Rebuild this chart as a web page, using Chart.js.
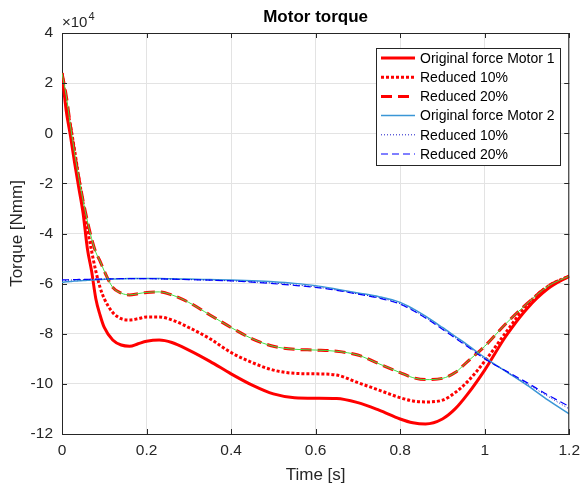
<!DOCTYPE html>
<html>
<head>
<meta charset="utf-8">
<script src="https://cdn.jsdelivr.net/npm/chart.js@4"></script>
<style>
  html, body { margin: 0; padding: 0; background: #fff; }
  #wrap { width: 587px; height: 486px; position: relative; }
</style>
</head>
<body>
<div id="wrap"><canvas id="myChart"></canvas></div>
<script>
// time in seconds, torque values in units of 1e4 Nmm (axis shows x10^4)
const time = [0, 0.01, 0.02, 0.03, 0.04, 0.05, 0.06, 0.07, 0.08, 0.09, 0.10, 0.12, 0.14, 0.16, 0.18, 0.20,
  0.23, 0.26, 0.30, 0.35, 0.40, 0.45, 0.50, 0.55, 0.60, 0.65, 0.70, 0.75, 0.80, 0.83, 0.86, 0.90,
  0.93, 0.96, 1.00, 1.05, 1.10, 1.15, 1.20];

const motor1Original = [2.4, 0.9, -0.1, -1.2, -2.2, -3.2, -4.6, -5.5, -6.6, -7.25, -7.75, -8.25, -8.45, -8.5, -8.4, -8.3,
  -8.25, -8.35, -8.65, -9.1, -9.6, -10.05, -10.4, -10.55, -10.57, -10.58, -10.75, -11.05, -11.4, -11.55, -11.6, -11.4,
  -11.0, -10.4, -9.45, -8.1, -7.0, -6.2, -5.7];
const motor1Reduced10 = [2.4, 1.2, 0.3, -0.7, -1.8, -2.8, -3.8, -4.7, -5.5, -6.15, -6.6, -7.15, -7.4, -7.45, -7.4, -7.33,
  -7.33, -7.45, -7.75, -8.2, -8.75, -9.15, -9.45, -9.58, -9.6, -9.65, -9.95, -10.25, -10.55, -10.68, -10.72, -10.65,
  -10.35, -9.9, -9.1, -7.95, -6.85, -6.1, -5.7];
const motor1Reduced20 = [2.4, 1.5, 0.3, -0.8, -1.8, -2.7, -3.5, -4.2, -4.75, -5.1, -5.5, -6.15, -6.38, -6.45, -6.4, -6.35,
  -6.33, -6.45, -6.75, -7.25, -7.75, -8.2, -8.5, -8.62, -8.65, -8.7, -8.85, -9.2, -9.55, -9.75, -9.83, -9.78,
  -9.55, -9.1, -8.5, -7.6, -6.8, -6.1, -5.7];

const motor2Original = [-5.95, -5.93, -5.92, -5.9, -5.89, -5.88, -5.87, -5.86, -5.85, -5.84, -5.83, -5.82, -5.81, -5.8, -5.8, -5.8,
  -5.8, -5.81, -5.82, -5.84, -5.86, -5.89, -5.93, -5.99, -6.08, -6.22, -6.37, -6.52, -6.75, -7.0, -7.3, -7.75,
  -8.1, -8.45, -8.95, -9.5, -10.05, -10.65, -11.2];
const motor2Reduced10 = [-5.88, -5.87, -5.86, -5.85, -5.85, -5.84, -5.84, -5.83, -5.83, -5.82, -5.82, -5.81, -5.8, -5.8, -5.8, -5.8,
  -5.81, -5.82, -5.84, -5.86, -5.89, -5.93, -5.98, -6.05, -6.13, -6.26, -6.41, -6.56, -6.8, -7.05, -7.35, -7.8,
  -8.15, -8.5, -9.0, -9.5, -10.0, -10.5, -11.0];
const motor2Reduced20 = [-5.85, -5.85, -5.84, -5.84, -5.83, -5.83, -5.83, -5.82, -5.82, -5.82, -5.81, -5.81, -5.8, -5.8, -5.8, -5.8,
  -5.81, -5.82, -5.84, -5.86, -5.89, -5.94, -6.0, -6.07, -6.15, -6.27, -6.42, -6.58, -6.82, -7.07, -7.37, -7.82,
  -8.17, -8.52, -9.0, -9.48, -9.95, -10.45, -10.9];

const xTicks = [0, 0.2, 0.4, 0.6, 0.8, 1, 1.2];
const yTicks = [-12, -10, -8, -6, -4, -2, 0, 2, 4];
const xTickLabels = ['0', '0.2', '0.4', '0.6', '0.8', '1', '1.2'];

const FONT = '"Liberation Sans", Arial, Helvetica, sans-serif';

function pts(values) {
    return time.map((t, i) => ({ x: t, y: values[i] }));
}

function line(label, values, color, width, dash, order) {
    return {
        label: label,
        data: pts(values),
        borderColor: color,
        backgroundColor: color,
        borderWidth: width,
        borderDash: dash,
        pointRadius: 0,
        fill: false,
        cubicInterpolationMode: 'monotone',
        order: order
    };
}

const datasets = [
    line('Original force Motor 1', motor1Original, '#ff0000', 3, [], 7),
    line('Reduced 10%', motor1Reduced10, '#ff0000', 3, [3, 2], 6),
    line('Reduced 20%', motor1Reduced20, '#ff0000', 3, [11, 6], 5),
    line('Original force Motor 2', motor2Original, '#3a96d6', 1.5, [], 4),
    line('Reduced 10%', motor2Reduced10, '#1a1ac8', 1, [1, 2], 3),
    line('Reduced 20%', motor2Reduced20, '#0000ff', 1.2, [7, 4], 2),
    Object.assign(line('', motor1Reduced20, '#44dd44', 1, [], 1), { hideInLegend: true })
];

// frame, inward ticks, titles, exponent and the boxed legend (MATLAB style)
const matlabLook = {
    id: 'matlabLook',
    afterDraw(chart) {
        const ctx = chart.ctx;
        const a = chart.chartArea;
        const xs = chart.scales.x, ys = chart.scales.y;
        ctx.save();
        ctx.strokeStyle = '#262626';
        ctx.lineWidth = 1;
        ctx.beginPath();
        ctx.moveTo(a.left, a.top + 0.5); ctx.lineTo(a.right, a.top + 0.5);
        ctx.moveTo(a.right - 0.5, a.top); ctx.lineTo(a.right - 0.5, a.bottom);
        xTicks.forEach(v => {
            const px = Math.round(xs.getPixelForValue(v)) + 0.5;
            ctx.moveTo(px, a.bottom); ctx.lineTo(px, a.bottom - 5);
            ctx.moveTo(px, a.top); ctx.lineTo(px, a.top + 5);
        });
        yTicks.forEach(v => {
            const py = Math.round(ys.getPixelForValue(v)) + 0.5;
            ctx.moveTo(a.left, py); ctx.lineTo(a.left + 5, py);
            ctx.moveTo(a.right, py); ctx.lineTo(a.right - 5, py);
        });
        ctx.stroke();

        ctx.fillStyle = '#000';
        ctx.textAlign = 'center';
        ctx.textBaseline = 'middle';
        ctx.font = 'bold 17px ' + FONT;
        ctx.fillText('Motor torque', (a.left + a.right) / 2, 17);

        ctx.fillStyle = '#262626';
        ctx.font = '17px ' + FONT;
        ctx.fillText('Time [s]', (a.left + a.right) / 2, 475);
        ctx.save();
        ctx.translate(17, (a.top + a.bottom) / 2);
        ctx.rotate(-Math.PI / 2);
        ctx.fillText('Torque [Nmm]', 0, 0);
        ctx.restore();

        ctx.textAlign = 'left';
        ctx.textBaseline = 'alphabetic';
        ctx.font = '15px ' + FONT;
        ctx.fillText('\u00d710', a.left, 27);
        const w = ctx.measureText('\u00d710').width;
        ctx.font = '11px ' + FONT;
        ctx.fillText('4', a.left + w + 1, 20);

        // legend box
        const items = chart.data.datasets.filter(d => !d.hideInLegend);
        const bx = 376.5, by = 48.5, bw = 184, bh = 117, rowH = 19.2;
        ctx.fillStyle = '#fff';
        ctx.fillRect(bx, by, bw, bh);
        ctx.strokeStyle = '#262626';
        ctx.lineWidth = 1;
        ctx.setLineDash([]);
        ctx.strokeRect(bx, by, bw, bh);
        ctx.font = '14px ' + FONT;
        ctx.textBaseline = 'middle';
        items.forEach((d, i) => {
            const y = 58 + i * rowH;
            ctx.beginPath();
            ctx.strokeStyle = d.borderColor;
            ctx.lineWidth = d.borderWidth;
            ctx.setLineDash(d.borderDash);
            ctx.moveTo(381, y);
            ctx.lineTo(415, y);
            ctx.stroke();
            ctx.setLineDash([]);
            ctx.fillStyle = '#000';
            ctx.fillText(d.label, 420, y + 1);
        });
        ctx.restore();
    }
};

const ctx = document.getElementById('myChart').getContext('2d');
const myChart = new Chart(ctx, {
    type: 'line',
    data: { datasets: datasets },
    plugins: [matlabLook],
    options: {
        responsive: true,
        maintainAspectRatio: false,
        animation: false,
        layout: { padding: { left: 0, right: 11, top: 33, bottom: 0 } },
        plugins: {
            legend: { display: false },
            tooltip: { enabled: false },
            title: { display: false }
        },
        scales: {
            x: {
                type: 'linear',
                min: 0,
                max: 1.2,
                afterFit: s => { s.height = 52; },
                afterBuildTicks: s => { s.ticks = xTicks.map(v => ({ value: v })); },
                ticks: {
                    color: '#262626',
                    font: { family: FONT, size: 15.5 },
                    padding: 7,
                    maxRotation: 0,
                    callback: (v) => xTickLabels[xTicks.indexOf(v)]
                },
                grid: { color: '#e3e3e3', drawTicks: false },
                border: { color: '#262626', width: 1 }
            },
            y: {
                type: 'linear',
                min: -12,
                max: 4,
                afterFit: s => { s.width = 62; },
                afterBuildTicks: s => { s.ticks = yTicks.map(v => ({ value: v })); },
                ticks: {
                    color: '#262626',
                    font: { family: FONT, size: 15.5 },
                    padding: 9
                },
                grid: { color: '#e3e3e3', drawTicks: false },
                border: { color: '#262626', width: 1 }
            }
        }
    }
});
</script>
</body>
</html>
